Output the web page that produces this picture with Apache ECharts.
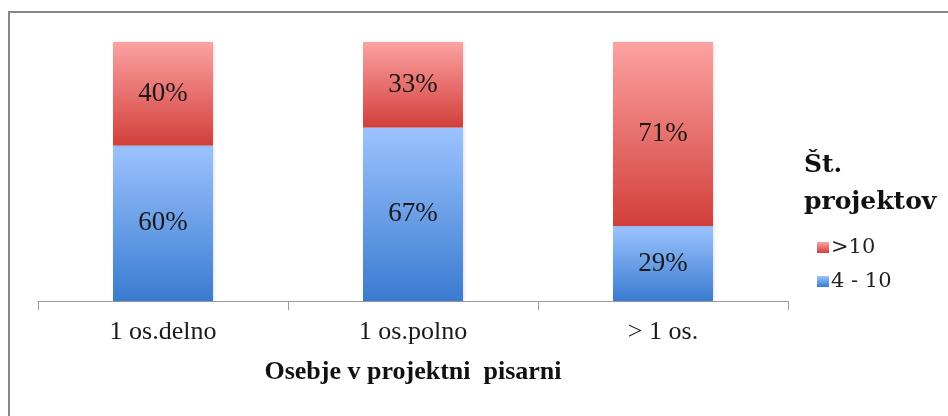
<!DOCTYPE html>
<html>
<head>
<meta charset="utf-8">
<script src="https://cdn.jsdelivr.net/npm/echarts@6/dist/echarts.min.js"></script>
<style>
  html, body { margin: 0; padding: 0; background: #fff; }
  #chart { width: 948px; height: 416px; }
</style>
</head>
<body>
<div id="chart"></div>
<script>
// Staffing of the project office vs. number of projects (share per category)
const categories = ['1 os.delno', '1 os.polno', '> 1 os.'];
const small = [60, 67, 29];   // 4 - 10 projects
const large = [40, 33, 71];   // more than 10 projects
const seriesNames = ['4 - 10', '>10'];

const serif = '"Liberation Serif", "Times New Roman", serif';

function grad(top, bottom) {
  return new echarts.graphic.LinearGradient(0, 0, 0, 1, [
    { offset: 0, color: top },
    { offset: 1, color: bottom }
  ]);
}

const labelStyle = {
  show: true,
  position: 'inside',
  formatter: '{c}%',
  fontFamily: serif,
  fontSize: 27,
  color: '#1a1a1a'
};

const chart = echarts.init(document.getElementById('chart'), null, { renderer: 'canvas' });
chart.setOption({
  animation: false,
  backgroundColor: '#fff',
  grid: { left: 38, right: 160, top: 42, bottom: 115, containLabel: false },
  graphic: [
    {
      type: 'rect',
      shape: { x: 9, y: 12, width: 980, height: 440 },
      style: { fill: 'none', stroke: '#878787', lineWidth: 2 },
      silent: true
    },
    {
      type: 'text',
      left: 804,
      top: 147,
      style: {
        text: 'Št.\nprojektov',
        font: 'bold 25px "DejaVu Serif", serif',
        lineHeight: 37,
        fill: '#111'
      }
    }
  ],
  legend: {
    data: ['>10', '4 - 10'],
    orient: 'vertical',
    left: 812,
    top: 232,
    itemWidth: 12,
    itemHeight: 11,
    itemGap: 13,
    icon: 'rect',
    textStyle: { fontFamily: '"DejaVu Serif", serif', fontSize: 21, color: '#222', padding: [0, 0, 0, -3] }
  },
  xAxis: {
    type: 'category',
    data: categories,
    name: 'Osebje v projektni  pisarni',
    nameLocation: 'middle',
    nameGap: 58,
    nameTextStyle: { fontFamily: serif, fontSize: 26, fontWeight: 'bold', color: '#111' },
    axisLine: { lineStyle: { color: '#9a9a9a', width: 1 } },
    axisTick: { show: true, length: 9, lineStyle: { color: '#9a9a9a' } },
    axisLabel: { fontFamily: serif, fontSize: 26, color: '#1a1a1a', margin: 18 }
  },
  yAxis: {
    type: 'value',
    min: 0,
    max: 100,
    show: false,
    splitLine: { show: false }
  },
  series: [
    {
      name: seriesNames[0],
      type: 'bar',
      stack: 'total',
      barWidth: 100,
      data: small,
      label: labelStyle,
      itemStyle: {
        color: grad('#9cc3ff', '#3a7bd0'),
        shadowColor: 'rgba(0,0,0,0.12)', shadowBlur: 3, shadowOffsetX: 1
      }
    },
    {
      name: seriesNames[1],
      type: 'bar',
      stack: 'total',
      barWidth: 100,
      data: large,
      label: labelStyle,
      itemStyle: {
        color: grad('#fca2a2', '#d23f3a'),
        shadowColor: 'rgba(0,0,0,0.12)', shadowBlur: 3, shadowOffsetX: 1
      }
    }
  ]
});
</script>
</body>
</html>
